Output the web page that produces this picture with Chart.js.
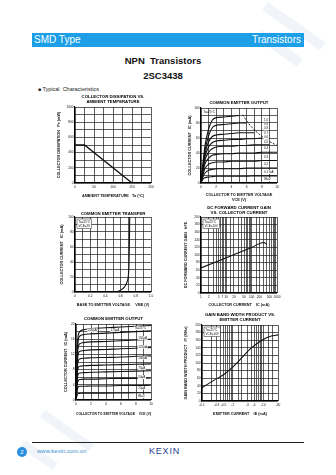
<!DOCTYPE html>
<html>
<head>
<meta charset="utf-8">
<script src="https://cdn.jsdelivr.net/npm/chart.js@4.4.0/dist/chart.umd.min.js"></script>
<style>
  html, body { margin: 0; padding: 0; background: #fff; }
  body { width: 336px; height: 475px; position: relative; overflow: hidden; font-family: "Liberation Sans", Arial, sans-serif; }
  .wm { position: absolute; background: rgba(215, 225, 238, 0.35); transform-origin: 0 0; }
  .bar { position: absolute; left: 32px; top: 33px; width: 272px; height: 14px; background: #1c9fe6; color: #fff; font-size: 10px; line-height: 14px; }
  .bar .l { position: absolute; left: 2px; }
  .bar .r { position: absolute; right: 3px; }
  .h1 { position: absolute; left: 0; width: 326px; text-align: center; font-weight: bold; font-size: 9.5px; color: #111; }
  .sec { position: absolute; left: 38px; top: 86px; font-size: 5.5px; color: #222; }
  .sec b { font-size: 5px; }
  canvas { position: absolute; }
  .rule { position: absolute; left: 32px; top: 442px; width: 272px; height: 1.3px; background: #222; }
  .dot { position: absolute; left: 17px; top: 447px; width: 10px; height: 10px; border-radius: 50%; background: #2a8fdc; color: #fff; font-size: 6px; line-height: 10px; text-align: center; }
  .url { position: absolute; left: 37px; top: 448px; font-size: 6px; color: #3b8fd0; }
  .logo { position: absolute; left: 149px; top: 446px; font-size: 9px; color: #23408e; letter-spacing: 0.8px; }
</style>
</head>
<body>
<div class="wm" style="left:268px;top:2px;width:70px;height:10px;transform:rotate(35deg);"></div>
<div class="wm" style="left:262px;top:30px;width:50px;height:10px;transform:rotate(35deg);"></div>
<div class="wm" style="left:45px;top:410px;width:60px;height:9px;transform:rotate(35deg);"></div>
<div class="wm" style="left:25px;top:440px;width:40px;height:9px;transform:rotate(35deg);"></div>

<div class="bar"><span class="l">SMD Type</span><span class="r">Transistors</span></div>
<div class="h1" style="top:55px;">NPN&nbsp; Transistors</div>
<div class="h1" style="top:70px;">2SC3438</div>
<div class="sec"><b>■</b> Typical&nbsp; Characteristics</div>

<canvas id="c1"></canvas>
<canvas id="c2"></canvas>
<canvas id="c3"></canvas>
<canvas id="c4"></canvas>
<canvas id="c5"></canvas>
<canvas id="c6"></canvas>

<div class="rule"></div>
<div class="dot">2</div>
<div class="url">www.kexin.com.cn</div>
<div class="logo">KEXIN</div>

<script>
// ---- data ----
// collector dissipation vs ambient temperature
const pdTemp = [0, 25, 150];
const pdPower = [500, 500, 0];

// common emitter output (mA)
const outVce = [0, 0.25, 0.5, 1, 1.5, 2, 3, 4, 5, 6, 7, 8, 9, 10];
const outIc = [
  [0, 25, 48, 72, 84, 87, 88, 89, 90, null, null, null, null, null],
  [0, 22, 42, 63, 74, 77, 78, 79, 80, 80, null, null, null, null],
  [0, 20, 38, 55, 62, 64, 65, 66, 67, 67, 67, null, null, null],
  [0, 18, 34, 48, 54, 56, 57, 58, 58, 59, 59, 60, null, null],
  [0, 16, 30, 41, 46, 48, 49, 49, 50, 50, 51, 51, 51, null],
  [0, 14, 25, 33, 37, 38, 39, 39, 40, 40, 40, 41, 41, 41],
  [0, 11, 19, 25, 27, 28, 28, 29, 29, 29, 29, 30, 30, 30],
  [0, 8, 13, 17, 18, 19, 19, 19, 19, 20, 20, 20, 20, 20],
  [0, 5, 7, 8, 8.5, 9, 9, 9, 9, 9, 9.5, 9.5, 9.5, 9.5]
];
const outIbLabels = ['1.0', '0.9', '0.8', '0.7', '0.6', '0.5', '0.4', '0.3', '0.2', '0.1 mA', 'IB=0'];
const outIbLabelY = [84, 78, 72.5, 66, 61, 55, 47, 35, 25, 14.5, 4.5];
const pcVce = [5.5, 6, 7, 8, 9, 10];
const pcIc = [91, 83, 71, 62.5, 55.5, 50];

// common emitter transfer
const trVbe = [0.45, 0.55, 0.6, 0.65, 0.68, 0.7, 0.71, 0.715, 0.72];
const trIc = [0, 0.5, 2.5, 6.5, 12, 20, 35, 60, 100];

// hFE vs Ic
const hfeIc = [1, 10, 100, 300, 400];
const hfeVal = [66, 93, 120, 133, 128];
const hfeTickLabels = [1, 2, 5, 7, 10, 20, 50, 100, 200, 500, 1000];

// common emitter output (uA base steps)
const out2Vce = [0, 0.1, 0.2, 0.3, 0.5, 1, 2, 4, 6, 8, 10];
const out2Ic = [
  [0, 9, 15, 17, 18, 18.5, 18.8, 19, 19.2, 19.4, 19.6],
  [0, 8, 13.5, 15.8, 16.8, 17.2, 17.4, 17.6, 17.8, 18, 18.2],
  [0, 7, 12, 14, 14.8, 15.1, 15.3, 15.4, 15.6, 15.8, 16],
  [0, 6, 10.5, 12.2, 12.8, 13, 13.2, 13.3, 13.5, 13.6, 13.8],
  [0, 5, 9, 10.3, 10.8, 11, 11.1, 11.2, 11.3, 11.5, 11.6],
  [0, 4, 7.4, 8.5, 8.9, 9, 9.1, 9.2, 9.3, 9.4, 9.5],
  [0, 3.3, 6, 6.8, 7.1, 7.2, 7.3, 7.4, 7.5, 7.6, 7.7],
  [0, 2.5, 4.5, 5.1, 5.4, 5.5, 5.5, 5.6, 5.7, 5.7, 5.8],
  [0, 1.7, 3, 3.4, 3.6, 3.6, 3.7, 3.7, 3.8, 3.8, 3.9],
  [0, 0.9, 1.5, 1.7, 1.75, 1.8, 1.8, 1.8, 1.85, 1.9, 1.9]
];
const out2Labels = ['150μA', '125μA', '100μA', '75μA', '50μA', '25μA', 'IB=0'];
const out2LabelY = [16.3, 13.9, 11, 8.4, 6, 3.2, 1];

// fT vs IE
const ftIe = [0.1, 0.25, 0.5, 1, 2, 3.5, 9, 18, 30];
const ftVal = [35, 55, 69, 89, 114, 135, 160, 171, 174];
const ftTickLabels = [0.1, 0.3, 0.5, 1, 3, 5, 10, 30];

// ---- helpers ----
const FONT = '"Liberation Sans", Arial, sans-serif';
const tickFont = { family: FONT, size: 3.2 };
const axFont = { family: FONT, size: 3.8, weight: 'bold', lineHeight: 1.2 };

const every = (n, fmt) => v => {
  const r = v / n;
  return Math.abs(r - Math.round(r)) < 1e-6 ? fmt(v) : '';
};
const only = (list, fmt) => v => {
  const hit = list.find(l => Math.abs(v - l) < l * 1e-6);
  return hit === undefined ? '' : fmt(hit);
};
const pts = (xs, ys) => xs.map((x, i) => ({ x: x, y: ys[i] }));

function axis(o, isX, box) {
  return {
    type: o.type || 'linear',
    position: isX ? 'bottom' : 'left',
    min: o.min, max: o.max,
    afterFit: s => { if (isX) s.height = box.xh; else s.width = box.yw; },
    ticks: {
      stepSize: o.step, autoSkip: false, maxRotation: 0, minRotation: 0,
      padding: isX ? 2 : 1.5, font: tickFont, color: '#111', callback: o.cb
    },
    grid: { color: '#1a1a1a', lineWidth: 0.7, drawTicks: false },
    border: { color: '#000', width: 1.1 },
    title: { display: true, text: o.title, font: axFont, color: '#111', padding: 0 }
  };
}

const notes = {
  id: 'notes',
  afterDatasetsDraw(chart, args, opts) {
    const { ctx, chartArea: a, scales: { x, y } } = chart;
    ctx.save();
    ctx.font = '3px ' + FONT;
    ctx.textBaseline = 'middle';
    ctx.textAlign = 'left';
    (opts.items || []).forEach(n => {
      const px = x.getPixelForValue(n.x), py = y.getPixelForValue(n.y);
      const w = ctx.measureText(n.t).width;
      if (n.bg) { ctx.fillStyle = '#fff'; ctx.fillRect(px - 0.6, py - 1.8, w + 1.2, 3.6); }
      ctx.fillStyle = '#111';
      ctx.fillText(n.t, px, py);
    });
    if (opts.box) {
      const w = Math.max(...opts.box.map(t => ctx.measureText(t).width)) + 3;
      const h = opts.box.length * 3.8 + 2;
      ctx.fillStyle = '#fff';
      ctx.fillRect(a.left + 2, a.top + 2, w, h);
      ctx.strokeStyle = '#222';
      ctx.lineWidth = 0.5;
      ctx.strokeRect(a.left + 2, a.top + 2, w, h);
      ctx.fillStyle = '#111';
      opts.box.forEach((t, i) => ctx.fillText(t, a.left + 3.5, a.top + 4.9 + i * 3.8));
    }
    ctx.restore();
  }
};

function build(id, box, datasets, xo, yo, noteOpts) {
  const c = document.getElementById(id);
  const titleH = box.title.length * 5 + box.tpad;
  c.width = box.yw + box.w + 8;
  c.height = titleH + box.h + box.xh;
  c.style.left = (box.l - box.yw) + 'px';
  c.style.top = (box.t - titleH) + 'px';
  return new Chart(c, {
    type: 'line',
    data: { datasets: datasets },
    options: {
      responsive: false,
      animation: false,
      events: [],
      layout: { padding: { left: 0, top: 0, right: 8, bottom: 0 } },
      elements: { point: { radius: 0 }, line: { borderColor: '#111', borderWidth: 1.1, fill: false } },
      scales: { x: axis(xo, true, box), y: axis(yo, false, box) },
      plugins: {
        legend: { display: false },
        tooltip: { enabled: false },
        title: {
          display: true, text: box.title, fullSize: false, color: '#000',
          font: { family: FONT, size: 4.3, weight: 'bold', lineHeight: '5px' },
          padding: { top: 0, bottom: box.tpad }
        },
        notes: noteOpts || {}
      }
    },
    plugins: [notes]
  });
}

const num1 = v => (v === 0 ? '0' : v.toFixed(1));
const int = v => String(Math.round(v));

// 1: collector dissipation
build('c1',
  { l: 75, t: 107, w: 76, h: 76, yw: 18, xh: 15, tpad: 3, title: ['COLLECTOR DISSIPATION VS.', 'AMBIENT TEMPERATURE'] },
  [{ data: pts(pdTemp, pdPower), borderWidth: 1.3 }],
  { min: 0, max: 200, step: 25, cb: every(50, int), title: 'AMBIENT TEMPERATURE   Ta (°C)' },
  { min: 0, max: 1000, step: 100, cb: every(200, int), title: 'COLLECTOR DISSIPATION   Pc (mW)' });

// 2: common emitter output (mA)
build('c2',
  { l: 201, t: 108, w: 76, h: 75, yw: 13, xh: 19, tpad: 3, title: ['COMMON EMITTER OUTPUT'] },
  outIc.map(ic => ({ data: pts(outVce, ic), cubicInterpolationMode: 'monotone' }))
    .concat([{ data: pts(pcVce, pcIc), borderDash: [2, 1.5], borderWidth: 0.9, cubicInterpolationMode: 'monotone' }]),
  { min: 0, max: 10, step: 1, cb: every(2, int), title: ['COLLECTOR TO EMITTER VOLTAGE', 'VCE (V)'] },
  { min: 0, max: 100, step: 10, cb: every(20, int), title: 'COLLECTOR CURRENT   IC (mA)' },
  { items: [{ x: 0.3, y: 94, t: 'Ta=25°C' }]
      .concat(outIbLabels.map((t, i) => ({ x: 8.3, y: outIbLabelY[i], t: t, bg: true }))) });

// 3: common emitter transfer
build('c3',
  { l: 75, t: 217, w: 76, h: 75, yw: 15, xh: 15, tpad: 1, title: ['COMMON EMITTER TRANSFER'] },
  [{ data: pts(trVbe, trIc), cubicInterpolationMode: 'monotone' }],
  { min: 0, max: 1, step: 0.1, cb: every(0.2, num1), title: 'BASE TO EMITTER VOLTAGE     VBE (V)' },
  { min: 0, max: 100, step: 10, cb: every(20, int), title: 'COLLECTOR CURRENT   IC (mA)' },
  { box: ['Ta=25°C', 'VCE=2V'] });

// 4: hFE vs Ic
build('c4',
  { l: 201, t: 217, w: 76, h: 76, yw: 17, xh: 14, tpad: 2, title: ['DC FORWARD CURRENT GAIN', 'VS. COLLECTOR CURRENT'] },
  [{ data: pts(hfeIc, hfeVal), cubicInterpolationMode: 'monotone' }],
  { type: 'logarithmic', min: 1, max: 1000, cb: only(hfeTickLabels, String), title: 'COLLECTOR CURRENT    IC (mA)' },
  { min: 0, max: 200, step: 20, cb: int, title: 'DC FORWARD CURRENT GAIN   hFE' },
  { box: ['Ta=25°C', 'VCE=10V'] });

// 5: common emitter output (uA steps)
build('c5',
  { l: 76, t: 324, w: 75, h: 76, yw: 12, xh: 16, tpad: 3, title: ['COMMON EMITTER OUTPUT'] },
  out2Ic.map(ic => ({ data: pts(out2Vce, ic), cubicInterpolationMode: 'monotone' })),
  { min: 0, max: 10, step: 1, cb: every(2, int), title: 'COLLECTOR TO EMITTER VOLTAGE    VCE (V)' },
  { min: 0, max: 20, step: 2, cb: every(4, int), title: 'COLLECTOR CURRENT   IC (mA)' },
  { items: [
      { x: 1.6, y: 18.4, t: '200μA', bg: true },
      { x: 4.6, y: 18.4, t: '175μA', bg: true },
      { x: 7.8, y: 18.9, t: 'Ta=25°C', bg: true }
    ].concat(out2Labels.map((t, i) => ({ x: 8.3, y: out2LabelY[i], t: t, bg: true }))) });

// 6: fT vs IE
build('c6',
  { l: 202, t: 325, w: 76, h: 76, yw: 18, xh: 15, tpad: 3, title: ['GAIN BAND WIDTH PRODUCT VS.', 'EMITTER CURRENT'] },
  [{ data: pts(ftIe, ftVal), cubicInterpolationMode: 'monotone' }],
  { type: 'logarithmic', min: 0.1, max: 30, cb: only(ftTickLabels, v => '-' + v), title: 'EMITTER CURRENT    IE (mA)' },
  { min: 0, max: 200, step: 20, cb: int, title: 'GAIN BAND WIDTH PRODUCT   fT (MHz)' },
  { box: ['Ta=25°C', 'VCE=10V'] });
</script>
</body>
</html>
